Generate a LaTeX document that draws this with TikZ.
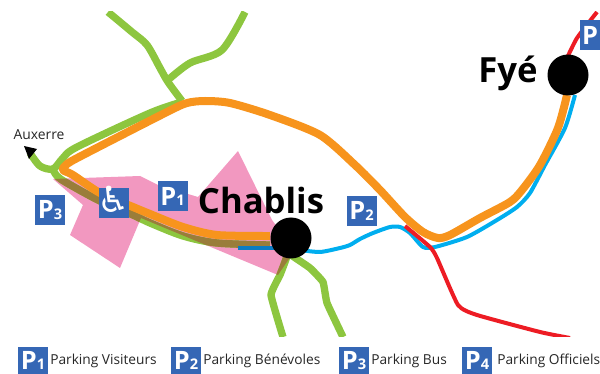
\documentclass[tikz,border=0pt]{standalone}
\usepackage{fontspec}
\setmainfont{Open Sans}
\newfontfamily\symfont{DejaVu Sans}
\definecolor{pinkzone}{HTML}{F298C0}
\definecolor{routeorange}{HTML}{F7941D}
\definecolor{routegreen}{HTML}{8DC63F}
\definecolor{routeblue}{HTML}{00AEEF}
\definecolor{routered}{HTML}{ED1C24}
\definecolor{routebrown}{HTML}{9A7D3A}
\definecolor{darkblue}{HTML}{0A7CC4}
\definecolor{signblue}{HTML}{3567B5}
\newcommand{\pzone}{(53,179) -- (140,176) -- (158,185) -- (198,197) -- (238,151) -- (272,220) -- (295,250) -- (278,275) -- (141,218) -- (120,268) -- (70,235) -- (83,205) -- cycle}
\newcommand{\gstem}{plot[smooth,tension=0.5] coordinates {(52,168) (57,176) (67,183) (100,201) (133,215) (150,223) (183,236) (217,243) (270,245)}}
\newcommand{\gsouthA}{plot[smooth,tension=0.2] coordinates {(291,245) (285,262) (280,275) (271,295) (283,337)}}
\newcommand{\bluewest}{(238,248) -- (280,248)}
\tikzset{
 x=0.75pt,y=-0.75pt,
 gline/.style={draw=routegreen,line width=5.5pt,line join=round},
 bline/.style={draw=routeblue,line width=3pt,line join=round},
 oline/.style={draw=routeorange,line width=6pt,line join=round},
 rline/.style={draw=routered,line width=3pt,line join=round},
 town/.style={circle,fill=black,minimum size=30.75pt,inner sep=0pt},
 sign/.style={fill=signblue,minimum width=22.5pt,minimum height=22.5pt,inner sep=0pt,text=white,font=\bfseries\fontsize{19}{19}\selectfont},
 townlabel/.style={font=\bfseries\fontsize{26}{26}\selectfont,text=black,inner sep=0pt},
 legendtext/.style={font=\fontsize{10.3}{11}\selectfont,text=black!85,inner sep=0pt,anchor=west},
}
\newcommand{\pk}[1]{P\raisebox{-0.5pt}{\fontsize{11}{11}\selectfont #1}}
\begin{document}
\begin{tikzpicture}
\useasboundingbox (0,0) rectangle (600,374);
\begin{scope}
\clip (0,12) rectangle (600,336);
\fill[pinkzone] \pzone;
% green routes
\path[gline] plot[smooth,tension=0.5] coordinates {(108,12) (132,32) (147,45) (160,68) (168,82) (182,101)};
\path[gline] plot[smooth,tension=0.5] coordinates {(168,80) (190,63) (222,50) (245,12)};
\path[gline] plot[smooth,tension=0.5] coordinates {(30,153) (40,166) (53,169) (63,158) (77,147) (150,113) (182,102)};
\path[gline] \gstem;
\path[gline] \gsouthA;
\path[gline] plot[smooth,tension=0.2] coordinates {(291,255) (310,268) (323,282) (327,303) (343,337)};
\begin{scope}
\clip \pzone;
\path[draw=routebrown,line width=5.5pt] \gstem;
\path[draw=routebrown,line width=5.5pt] \gsouthA;
\end{scope}
% blue route
\path[bline] plot[smooth,tension=0.4] coordinates {(300,250) (320,252) (340,248) (350,245) (360,239) (373,233) (390,227) (400,227) (410,233) (423,247) (435,247) (467,237) (497,220) (517,207) (530,193) (545,165) (565,128) (575,95)};
\path[draw=darkblue,line width=3pt] \bluewest;
% orange route
\path[oline] plot[smooth,tension=0.45] coordinates {(270,236) (217,235) (183,227) (150,214) (133,207) (100,193) (73,175) (63,170) (67,164) (83,155) (167,112) (187,103) (205,101) (230,103) (270,115) (320,135) (355,165) (380,190) (405,217) (423,232) (438,238) (450,235) (480,218) (510,202) (522,190) (540,165) (558,128) (567,95)};
% red route
\path[rline] plot[smooth,tension=0.3] coordinates {(405,226) (430,247) (437,258) (458,305) (477,315) (540,332) (570,338)};
\path[rline] plot[smooth,tension=0.3] coordinates {(567,58) (577,38) (597,12)};
\end{scope}
% arrow to Auxerre
\fill[black] (24,146) -- (37,149) -- (29,159) -- cycle;
\node[font=\fontsize{10.4}{11}\selectfont,text=black!85,inner sep=0pt] (auxerre) at (39,135) {Auxerre};
% towns
\node[town] (chablis) at (291,238) {};
\node[town] (fye) at (568,75) {};
\node[townlabel] (chablislabel) at (261,201) {Chablis};
\node[townlabel] (fyelabel) at (508,73) {Fyé};
% map signs
\node[sign] (p1) at (172.5,196.5) {\pk{1}};
\node[sign] (p2) at (361.5,211) {\pk{2}};
\node[sign] (p3) at (50,210) {\pk{3}};
\node[sign] (wheel) at (114,203) {\smash{\makebox[0pt]{\symfont\fontsize{27}{27}\selectfont\raisebox{-7pt}{♿}}}};
\node[sign,minimum width=15pt] (p4) at (590,35) {P};
\node[sign,minimum height=20.25pt] (lp1) at (33,360.5) {\pk{1}};
\node[sign,minimum height=20.25pt] (lp2) at (186,360.5) {\pk{2}};
\node[sign,minimum height=20.25pt] (lp3) at (354,360.5) {\pk{3}};
\node[sign,minimum height=20.25pt] (lp4) at (477,360.5) {\pk{4}};
\node[legendtext] (l1) at (50,361) {Parking Visiteurs};
\node[legendtext] (l2) at (203,361) {Parking Bénévoles};
\node[legendtext] (l3) at (371,361) {Parking Bus};
\node[legendtext] (l4) at (497,361) {Parking Officiels};
\end{tikzpicture}
\end{document}
